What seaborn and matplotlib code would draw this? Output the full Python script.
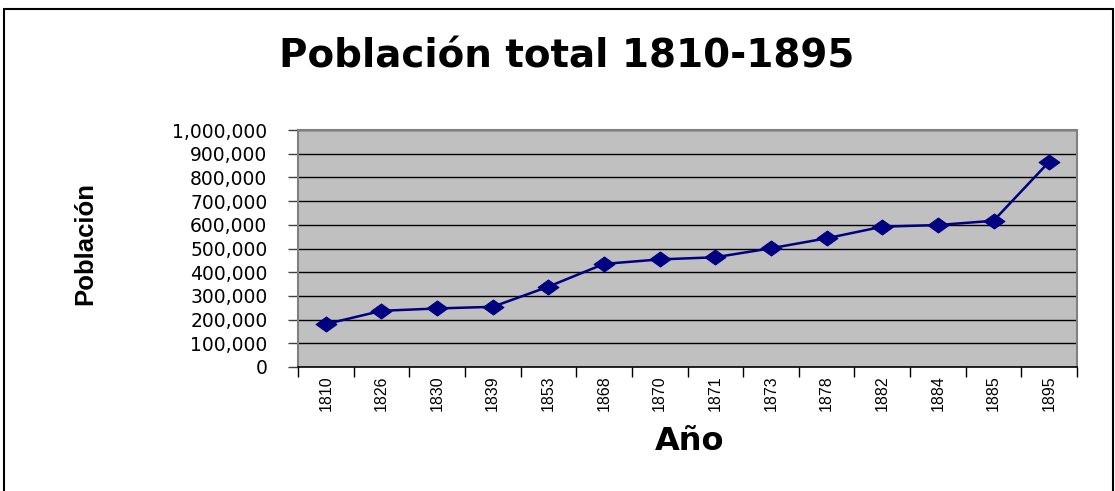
import numpy as np
import pandas as pd
import seaborn as sns
import matplotlib.pyplot as plt
from matplotlib.path import Path
from matplotlib.patches import Rectangle
from matplotlib.ticker import FuncFormatter, FixedLocator

# datos
anios = ["1810", "1826", "1830", "1839", "1853", "1868", "1870",
         "1871", "1873", "1878", "1882", "1884", "1885", "1895"]
poblacion = [181000, 237000, 247000, 254000, 339000, 435000, 454000,
             463000, 501000, 543000, 592000, 599000, 617000, 866000]
y_ticks = list(range(0, 1000001, 100000))

sns.set_theme(style="white")
plt.rcParams['font.family'] = ['DejaVu Sans']
plt.rcParams['text.color'] = 'black'
plt.rcParams['axes.labelcolor'] = 'black'
arial = ['Liberation Sans', 'DejaVu Sans']

df = pd.DataFrame({"Año": anios, "Población": poblacion})

fig = plt.figure(figsize=(11.15, 4.91), dpi=100)
ax = fig.add_axes([298 / 1115, 1 - 367 / 491, 779 / 1115, 237 / 491])

# rombo achatado como en Excel
rombo = Path([(-1, 0), (0, 0.72), (1, 0), (0, -0.72), (-1, 0)],
             [Path.MOVETO, Path.LINETO, Path.LINETO, Path.LINETO, Path.CLOSEPOLY])

sns.lineplot(data=df, x="Año", y="Población", ax=ax, color="#000080",
             linewidth=1.8, marker=rombo, markersize=15,
             markerfacecolor="#000080", markeredgecolor="#000080", sort=False)

ax.set_facecolor("#C0C0C0")
ax.set_ylim(0, 1000000)
ax.set_xlim(-0.5, len(anios) - 0.5)
ax.set_yticks(y_ticks)
ax.yaxis.set_major_formatter(FuncFormatter(lambda v, p: f"{v:,.0f}"))
for v in y_ticks[1:]:
    ax.axhline(v, color="#000000", lw=1.0, zorder=0.5)

ax.xaxis.set_minor_locator(FixedLocator(np.arange(-0.5, len(anios), 1.0)))
ax.tick_params(axis="x", which="major", length=0, pad=6, labelcolor="black")
ax.tick_params(axis="x", which="minor", bottom=True, length=7, width=1, color="black")
ax.tick_params(axis="y", left=True, length=7, width=1, color="#404040",
               pad=15, labelsize=13.5, labelcolor="black")
for lab in ax.get_xticklabels():
    lab.set_rotation(90)
    lab.set_va("top")
    lab.set_ha("center")
    lab.set_family(arial)
    lab.set_fontsize(11.5)

for side in ["left", "top", "right"]:
    ax.spines[side].set_color("#808080")
    ax.spines[side].set_linewidth(1.5)
ax.spines["bottom"].set_color("black")
ax.spines["bottom"].set_linewidth(1.2)

ax.set_xlabel("Año", fontsize=23, fontweight="bold")
ax.xaxis.set_label_coords(0.503, -0.25)
ax.set_ylabel("Población", fontsize=18.5, fontweight="bold", family=arial)
ax.yaxis.set_label_coords(-0.258, 0.52)

fig.text(0.508, 0.884, "Población total 1810-1895", ha="center", va="center",
         fontsize=28, fontweight="bold")

fig.patches.append(Rectangle((4 / 1115, -0.05), 1109 / 1115, 0.05 + 1 - 9 / 491,
                             transform=fig.transFigure, fill=False,
                             edgecolor="black", lw=1.5))

fig.savefig("out.png", dpi=100)
